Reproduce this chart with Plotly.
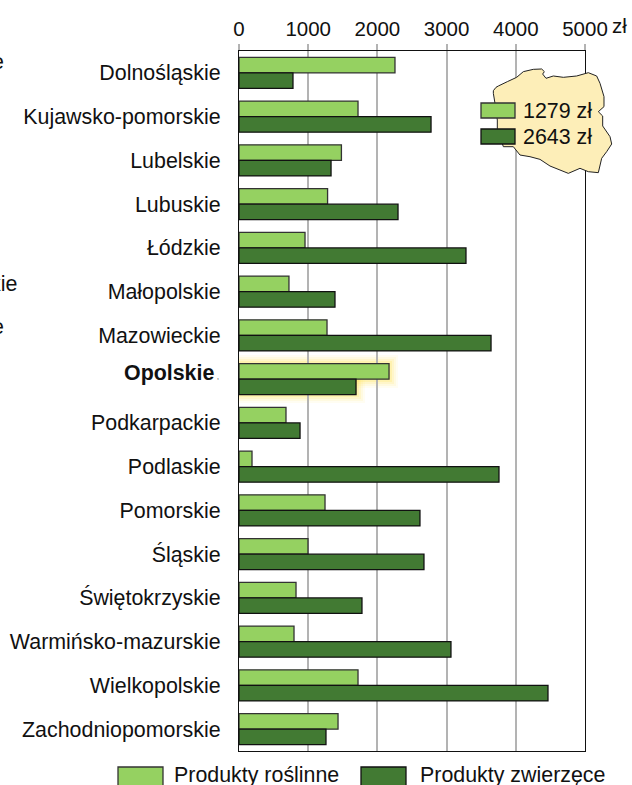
import plotly.graph_objects as go

regions = ["Dolnośląskie","Kujawsko-pomorskie","Lubelskie","Lubuskie","Łódzkie","Małopolskie","Mazowieckie","Opolskie","Podkarpackie","Podlaskie","Pomorskie","Śląskie","Świętokrzyskie","Warmińsko-mazurskie","Wielkopolskie","Zachodniopomorskie"]
plant = [2254,1720,1480,1280,954,722,1272,2168,679,188,1243,997,824,795,1720,1431]
animal = [780,2775,1330,2298,3280,1387,3642,1691,882,3757,2615,2673,1777,3063,4465,1257]
x_ticks = [0,1000,2000,3000,4000,5000]
series_names = ["Produkty roślinne","Produkty zwierzęce"]
poland_labels = ["1279 zł","2643 zł"]
tick_text = [r if r != "Opolskie" else "" for r in regions]
LIGHT="#95d161"; DARK="#427a33"; FONT="Liberation Sans"; TXT="#111111"
W,H=632,785
L,R,T,B=239,585,51,751

def px(x): return (x-L)/(R-L)
def py(y): return 1-(y-T)/(B-T)

fig=go.Figure()
fig.add_bar(name=series_names[0],y=regions,x=plant,orientation="h",marker=dict(color=LIGHT,line=dict(color="#333333",width=1.3)))
fig.add_bar(name=series_names[1],y=regions,x=animal,orientation="h",marker=dict(color=DARK,line=dict(color="#111111",width=1.3)))

shapes=[]
def rect(x0,y0,x1,y1,fill,line="#333333",lw=1.3,layer="above",op=1):
    shapes.append(dict(type="rect",xref="paper",yref="paper",x0=px(x0),x1=px(x1),y0=py(y0),y1=py(y1),fillcolor=fill,line=dict(color=line,width=lw),layer=layer,opacity=op))

# soft glow behind the highlighted bars
for g,o in [(9,.08),(7,.11),(5,.16),(3,.24),(1,.34)]:
    rect(239,364-g,389+g,379+g,"#ffe45c","rgba(0,0,0,0)",0,"below",o)
    rect(239,379,356+g,394+g,"#ffe45c","rgba(0,0,0,0)",0,"below",o)

pts=[(220,272),(228,262),(235,258),(262,245),(290,232),(310,215),(340,208),(365,207),(373,215),(368,222),(378,235),(400,228),(430,232),(470,228),(505,218),(530,228),(540,250),(552,290),(552,320),(535,335),(548,348),(548,378),(570,410),(575,432),(560,455),(545,475),(535,518),(505,515),(480,505),(445,520),(420,510),(390,498),(360,478),(330,470),(300,465),(280,440),(250,440),(232,385),(232,360),(225,310),(220,280)]
path="M "+" L ".join(f"{px(420+a/3):.4f},{py(b/3):.4f}" for a,b in pts)+" Z"
shapes.append(dict(type="path",path=path,xref="paper",yref="paper",fillcolor="#fdeeb8",line=dict(color="#222222",width=1),layer="above"))
rect(481,103,515,118,LIGHT)
rect(481,129,515,144,DARK,"#111111")
rect(118,767,163,795,LIGHT)
rect(361,767,406,795,DARK,"#111111")

def note(x,y,text,anchor="left",size=21.4):
    return dict(xref="paper",yref="paper",x=px(x),y=py(y),text=text,showarrow=False,xanchor=anchor,yanchor="middle",font=dict(family=FONT,size=size,color=TXT))

ann=[note(521,111,poland_labels[0]),note(521,137,poland_labels[1]),
     note(610,25,"zł",size=20.5),note(172,775,series_names[0]),note(418,775,series_names[1]),
     note(216,373,"<b>Opolskie</b>","right"),note(215,376,",","left",7),
     note(6,62,"e","right"),note(19,284,"kie","right"),note(6,327,"e","right")]

fig.update_layout(width=W,height=H,autosize=False,margin=dict(l=L,r=W-R,t=T,b=H-B,pad=0),
    paper_bgcolor="white",plot_bgcolor="white",barmode="group",bargap=0.29,bargroupgap=0,showlegend=False,
    shapes=shapes,annotations=ann,font=dict(family=FONT,size=21.4,color=TXT))
fig.update_xaxes(side="top",range=[0,5000],tickvals=x_ticks,ticks="outside",ticklen=6,tickwidth=2,tickcolor="#b3b3b3",
    showgrid=True,gridcolor="#b3b3b3",gridwidth=2,showline=True,linecolor="#111111",linewidth=1.2,mirror=True,zeroline=False,
    tickfont=dict(family=FONT,size=20.5,color=TXT),automargin=False)
fig.update_yaxes(categoryorder="array",categoryarray=regions,autorange="reversed",tickvals=regions,ticktext=tick_text,ticks="",
    ticklabelstandoff=13,showline=True,linecolor="#111111",linewidth=1.2,mirror=True,showgrid=False,
    tickfont=dict(family=FONT,size=21.4,color=TXT),automargin=False)
fig.write_html("out.html",config=dict(displayModeBar=False),
    post_script="document.body.style.margin='0';document.documentElement.style.overflow='hidden';")
